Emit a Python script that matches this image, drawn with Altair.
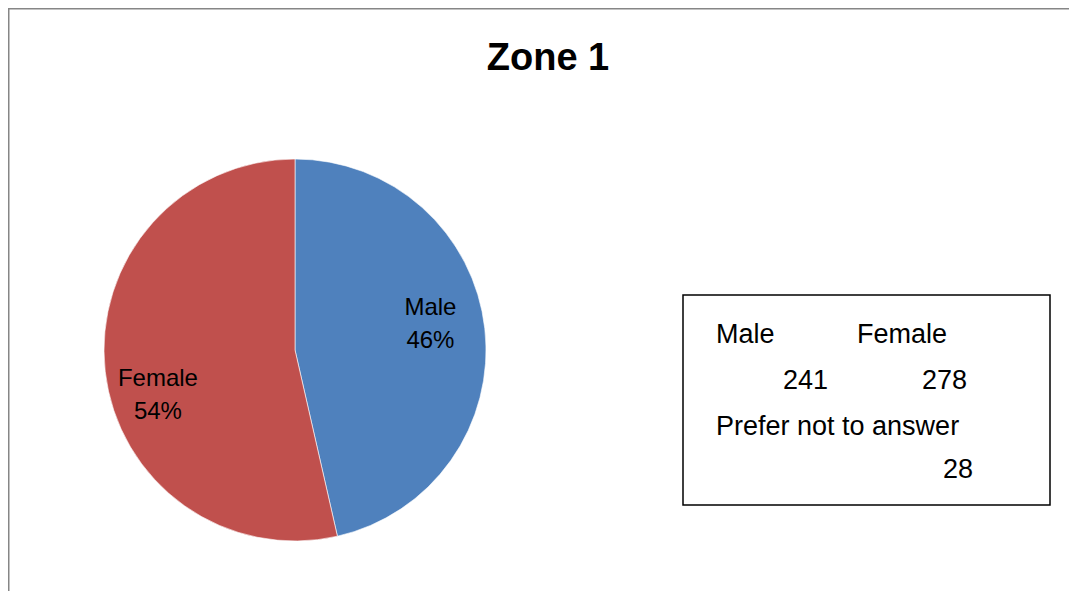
import altair as alt
import pandas as pd

# ---- data ----
genders = ["Male", "Female"]
counts = [241, 278]
colors = ["#4F81BD", "#C0504D"]
other_label = "Prefer not to answer"
other_count = 28
title_text = "Zone 1"

# label placement (Excel best-fit style nudges, degrees / pixels)
label_shift_deg = [-4.7, -11.4]
label_radius = [138, 144]

df = pd.DataFrame({
    "gender": genders,
    "count": counts,
    "order": list(range(len(genders))),
    "shift": label_shift_deg,
    "lr": label_radius,
})

CX, CY, R = 287, 342, 191
FONT = "Liberation Sans"
W, H = 1061, 583

base = alt.Chart(df)

pie = base.mark_arc(radius=R, stroke="white", strokeWidth=0.6).encode(
    theta=alt.Theta("count:Q", stack=True),
    color=alt.Color("gender:N", scale=alt.Scale(domain=genders, range=colors), legend=None),
    order=alt.Order("order:Q", sort="ascending"),
    x=alt.value(CX),
    y=alt.value(CY),
)

labels = base.transform_joinaggregate(
    total="sum(count)"
).transform_window(
    cum="sum(count)", sort=[alt.SortField("order", order="ascending")], frame=[None, 0]
).transform_calculate(
    mid="(datum.cum - datum.count / 2) / datum.total",
    ang="2 * PI * datum.mid + datum.shift * PI / 180",
    pct="round(100 * datum.count / datum.total) + '%'",
    label="datum.gender + '\\n' + datum.pct",
).mark_text(
    font=FONT, fontSize=24, color="black", align="center", baseline="middle",
    lineBreak="\n", lineHeight=33, dy=-15,
).encode(
    theta=alt.Theta("ang:Q", scale=None),
    radius=alt.Radius("lr:Q", scale=None),
    text="label:N",
    x=alt.value(CX),
    y=alt.value(CY),
)

title = alt.Chart(pd.DataFrame({"t": [title_text]})).mark_text(
    font=FONT, fontSize=38, fontWeight="bold", align="center", baseline="alphabetic", color="black"
).encode(text="t:N", x=alt.value(540), y=alt.value(62))

box = alt.Chart(pd.DataFrame({"a": [0]})).mark_rect(
    fill="white", stroke="black", strokeWidth=1.5
).encode(x=alt.value(675), x2=alt.value(1042), y=alt.value(287), y2=alt.value(497))

box_items = [
    (genders[0], 708, 335, "left"),
    (genders[1], 849, 335, "left"),
    (str(counts[0]), 820, 381, "right"),
    (str(counts[1]), 959, 381, "right"),
    (other_label, 708, 427, "left"),
    (str(other_count), 965, 470, "right"),
]
box_texts = []
for txt, bx, by, al in box_items:
    box_texts.append(
        alt.Chart(pd.DataFrame({"t": [txt]})).mark_text(
            font=FONT, fontSize=27, align=al, baseline="alphabetic", color="black"
        ).encode(text="t:N", x=alt.value(bx), y=alt.value(by))
    )

border_top = alt.Chart(pd.DataFrame({"a": [0]})).mark_rule(color="#868686", strokeWidth=3).encode(
    x=alt.value(0), x2=alt.value(W), y=alt.value(0)
)
border_left = alt.Chart(pd.DataFrame({"a": [0]})).mark_rule(color="#868686", strokeWidth=3).encode(
    x=alt.value(0), y=alt.value(0), y2=alt.value(H)
)

chart = alt.layer(
    border_top, border_left, title, pie, labels, box, *box_texts
).properties(
    width=W, height=H, autosize="none", padding=0, background="white"
).configure_view(stroke=None)

chart.save("out.html", embed_options={"renderer": "svg", "actions": False})
